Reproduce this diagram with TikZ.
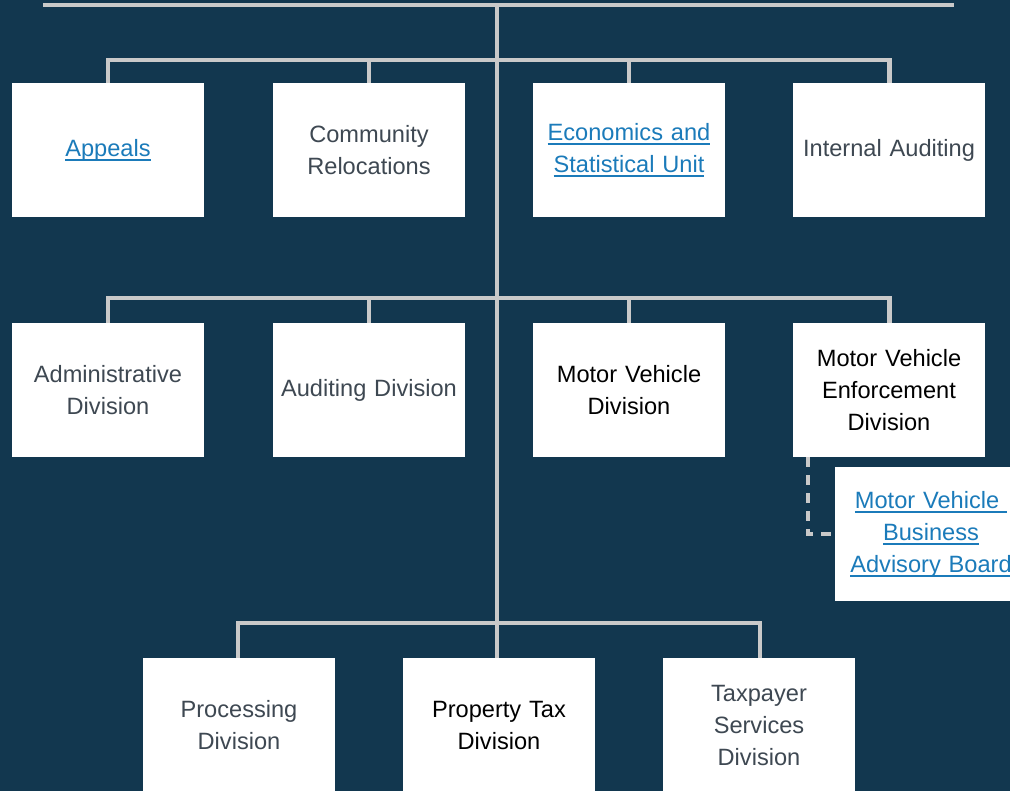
\documentclass[tikz,border=0pt]{standalone}
\usepackage{fontspec}
\setmainfont{Liberation Sans}
\definecolor{bg}{HTML}{12374F}
\definecolor{ln}{HTML}{C9C9C9}
\definecolor{gr}{HTML}{3E4852}
\definecolor{lk}{HTML}{1B7BBA}
\tikzset{
  box/.style={fill=white, minimum width=192pt, minimum height=134pt, inner sep=0pt,
    text width=190pt, align=center, font=\fontsize{23.6}{32}\selectfont, text=gr},
  link/.style={text=lk},
  blk/.style={text=black},
  conn/.style={draw=ln, line width=3.6pt},
  dconn/.style={draw=ln, line width=3.6pt, dash pattern=on 10pt off 8pt},
}
\newcommand{\ul}[1]{\leavevmode\setbox0\hbox{#1}\rlap{\rule[-4.5pt]{\wd0}{1.8pt}}\box0}
\begin{document}
\begin{tikzpicture}[x=1pt,y=-1pt]
\useasboundingbox (0,0) rectangle (1010,791);
\fill[bg] (0,0) rectangle (1010,791);
\begin{scope}
\clip (0,0) rectangle (1010,791);
% connectors
\coordinate (tl) at (43,5);
\coordinate (tr) at (954,5);
\coordinate (t0) at (497,5);
\coordinate (t3) at (497,660);
\draw[conn] (tl) -- (tr);
\draw[conn] (t0) -- (t3);
\coordinate (b1r) at (890,60);
\draw[conn] (108,83) |- (b1r) -- (890,83);
\coordinate (b2r) at (890,298);
\draw[conn] (108,323) |- (b2r) -- (890,323);
\coordinate (b3r) at (760,623);
\draw[conn] (238,659) |- (b3r) -- (760,659);
% nodes
\node[box, link] (appeals) at (108,150) {\ul{Appeals}};
\node[box] (comm) at (369,150) {Community\\Relocations};
\node[box, link] (econ) at (629,150) {\ul{Economics and}\\\ul{Statistical Unit}};
\node[box] (intaud) at (889,150) {Internal Auditing};
\node[box] (admin) at (108,390) {Administrative\\Division};
\node[box] (audit) at (369,390) {Auditing Division};
\node[box, blk] (mvd) at (629,390) {Motor Vehicle\\Division};
\node[box, blk] (mved) at (889,390) {Motor Vehicle\\Enforcement\\Division};
\node[box, link] (board) at (931,534) {\ul{Motor Vehicle\ }\\\ul{Business}\\\ul{Advisory Board}};
\node[box] (proc) at (239,725) {Processing\\Division};
\node[box, blk] (prop) at (499,725) {Property Tax\\Division};
\node[box] (tax) at (759,725) {Taxpayer\\Services\\Division};
% drops
\foreach \x/\n in {108/appeals,369/comm,629/econ,889/intaud}
  \draw[conn] (\x,60) -- (\n.north -| \x,0);
\foreach \x/\n in {108/admin,369/audit,629/mvd,889/mved}
  \draw[conn] (\x,298) -- (\n.north -| \x,0);
\foreach \x/\n in {238/proc,760/tax}
  \draw[conn] (\x,623) -- (\n.north -| \x,0);
\draw[conn] (497,623) -- (prop.north -| 497,0);
% dashed
\draw[dconn] (mved.south -| 808,0) |- (board.west);
\end{scope}
\end{tikzpicture}
\end{document}
